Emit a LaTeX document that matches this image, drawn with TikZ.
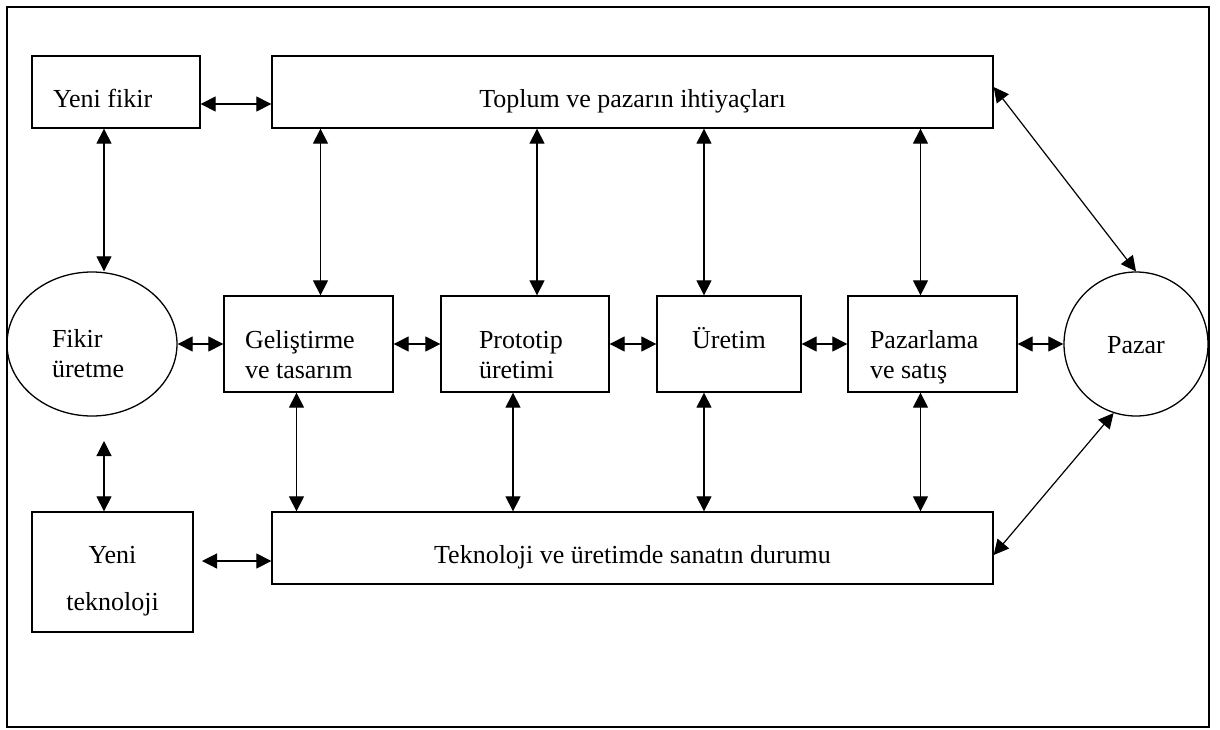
\documentclass[tikz,border=0pt]{standalone}
\usepackage{fontspec}
\setmainfont{Liberation Serif}
\usetikzlibrary{arrows.meta,shapes.geometric}

\tikzset{
  kutu/.style={draw, line width=0.65pt, inner ysep=0pt, font=\fontsize{13}{15}\selectfont},
  uzun/.style={minimum height=36pt, text height=15pt, text depth=0pt},
  orta/.style={minimum height=48pt, text height=4pt, text depth=0pt},
  cift/.style={{Triangle[length=7.5pt,width=7.5pt]}-{Triangle[length=7.5pt,width=7.5pt]}, line width=0.6pt}
}

\begin{document}
\begin{tikzpicture}[x=0.5pt, y=-0.5pt]
  \useasboundingbox (0,0) rectangle (1220,729);
  \draw[line width=0.6pt] (7,7) rectangle (1209,727);

  % ust satir
  \node[kutu, uzun, minimum width=84pt, text width=63pt, inner xsep=10.5pt, align=flush left] (yfikir) at (116,92) {Yeni fikir};
  \node[kutu, uzun, minimum width=360.5pt, text width=360.5pt, inner xsep=0pt, align=flush center] (toplum) at (632.5,92) {Toplum ve pazarın ihtiyaçları};

  % orta satir
  \node[kutu, ellipse, minimum width=85pt, minimum height=72pt, text width=40pt, inner xsep=0pt, align=flush left, text height=3pt, text depth=0pt] (fikir) at (92,344) {Fikir\\üretme};
  \node[kutu, orta, minimum width=84.5pt, text width=63.5pt, inner xsep=10.5pt, align=flush left] (gelis) at (308.5,344) {Geliştirme\\ve tasarım};
  \node[kutu, orta, minimum width=84pt, text width=46pt, inner xsep=19pt, align=flush left] (proto) at (525,344) {Prototip\\üretimi};
  \node[kutu, orta, minimum width=72pt, text width=72pt, inner xsep=0pt, align=flush center] (uretim) at (729,344) {Üretim};
  \node[kutu, orta, minimum width=84.5pt, text width=62.5pt, inner xsep=11pt, align=flush left] (pazarl) at (932.5,344) {Pazarlama\\ve satış};
  \node[kutu, circle, minimum size=72pt, text width=40pt, inner xsep=0pt, align=flush center, text height=9pt, text depth=0pt] (pazar) at (1136,344) {Pazar};

  % alt satir
  \node[kutu, minimum width=80.5pt, minimum height=60pt, text width=80.5pt, inner xsep=0pt, align=flush center, text height=0pt, text depth=9pt] (yteknoloji) at (112.5,572) {Yeni\\[8.5pt]teknoloji};
  \node[kutu, uzun, minimum width=360.5pt, text width=360.5pt, inner xsep=0pt, align=flush center] (teknoloji) at (632.5,548) {Teknoloji ve üretimde sanatın durumu};

  \coordinate (fkalt) at (104,441);
  \coordinate (tksol) at (202,561);

  \draw[cift] ([yshift=-6pt]yfikir.east) -- ([yshift=-6pt]yfikir.east -| toplum.west);
  \draw[cift] ([xshift=-6pt]yfikir.south) -- ([xshift=6pt]fikir.north);
  \draw[cift] (fkalt) -- (fkalt |- yteknoloji.north);
  \draw[cift] (tksol) -- (tksol -| teknoloji.west);

  \draw[cift] (fikir.east) -- (gelis.west);
  \draw[cift] (gelis.east) -- (proto.west);
  \draw[cift] (proto.east) -- (uretim.west);
  \draw[cift] (uretim.east) -- (pazarl.west);
  \draw[cift] (pazarl.east) -- (pazar.west);

  \draw[cift] ([xshift=6pt]gelis.north) -- ([xshift=6pt]gelis.north |- toplum.south);
  \draw[cift] ([xshift=6pt]proto.north) -- ([xshift=6pt]proto.north |- toplum.south);
  \draw[cift] ([xshift=-12.5pt]uretim.north) -- ([xshift=-12.5pt]uretim.north |- toplum.south);
  \draw[cift] ([xshift=-6pt]pazarl.north) -- ([xshift=-6pt]pazarl.north |- toplum.south);

  \draw[cift] ([xshift=-6pt]gelis.south) -- ([xshift=-6pt]gelis.south |- teknoloji.north);
  \draw[cift] ([xshift=-6pt]proto.south) -- ([xshift=-6pt]proto.south |- teknoloji.north);
  \draw[cift] ([xshift=-12.5pt]uretim.south) -- ([xshift=-12.5pt]uretim.south |- teknoloji.north);
  \draw[cift] ([xshift=-6pt]pazarl.south) -- ([xshift=-6pt]pazarl.south |- teknoloji.north);

  \draw[cift] ([yshift=2.5pt]toplum.east) -- (pazar.north);
  \draw[cift] ([yshift=-3.5pt]teknoloji.east) -- (pazar.252);
\end{tikzpicture}
\end{document}
